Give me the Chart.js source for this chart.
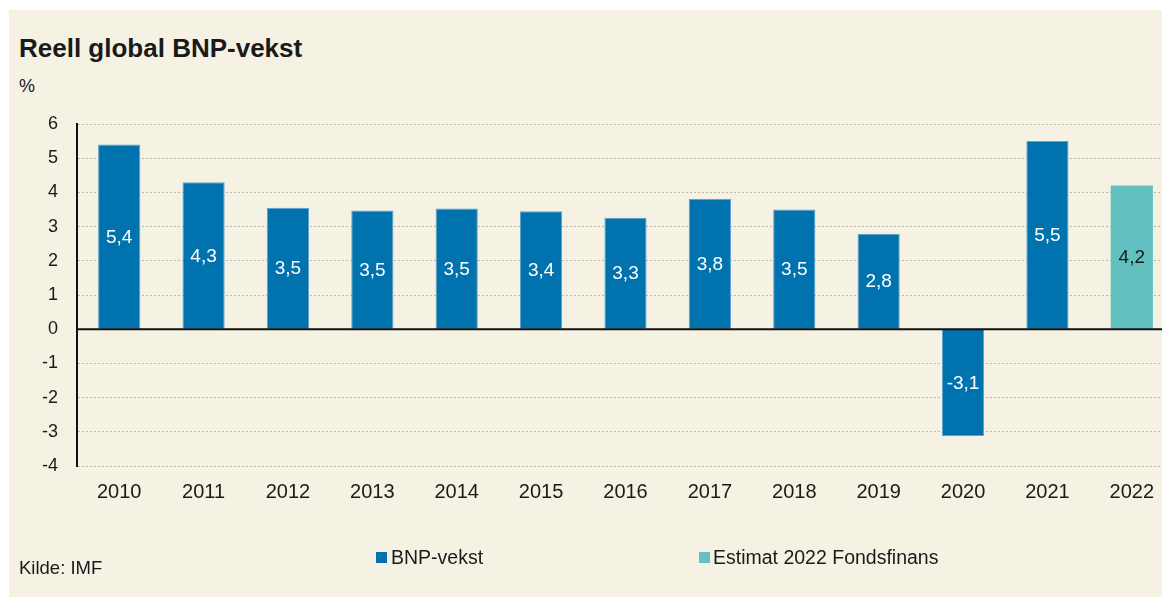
<!DOCTYPE html>
<html><head><meta charset="utf-8">
<script src="https://cdn.jsdelivr.net/npm/chart.js@4"></script>
<style>
html,body{margin:0;padding:0;width:1162px;height:597px;overflow:hidden;background:#fff;font-family:"Liberation Sans",Arial,sans-serif;color:#1a1a1a}
#panel{position:absolute;left:9px;top:10px;width:1153px;height:587px;background:#f5f1e3}
#wrap{position:absolute;left:0;top:0;width:1174px;height:597px}
.t{position:absolute;white-space:nowrap;line-height:1}
.sw{position:absolute;width:11px;height:11px}
</style></head>
<body>
<div id="panel"></div>
<div class="t" style="left:19px;top:35px;font-size:26px;font-weight:bold">Reell global BNP-vekst</div>
<div class="t" style="left:19px;top:77px;font-size:18px">%</div>
<div id="wrap"><canvas id="c"></canvas></div>
<div class="sw" style="left:376px;top:552px;background:#0073af"></div>
<div class="t" style="left:391px;top:548px;font-size:19.5px">BNP-vekst</div>
<div class="sw" style="left:699px;top:552px;background:#62c1c0"></div>
<div class="t" style="left:713px;top:548px;font-size:19.5px">Estimat 2022 Fondsfinans</div>
<div class="t" style="left:19px;top:559px;font-size:18.5px">Kilde: IMF</div>
<script>
const categories = ['2010','2011','2012','2013','2014','2015','2016','2017','2018','2019','2020','2021','2022'];
const bnpVekst = [5.40, 4.30, 3.55, 3.47, 3.53, 3.45, 3.26, 3.81, 3.50, 2.79, -3.12, 5.50, null];
const estimat  = [null, null, null, null, null, null, null, null, null, null, null, null, 4.20];
const valueLabels = ['5,4','4,3','3,5','3,5','3,5','3,4','3,3','3,8','3,5','2,8','-3,1','5,5','4,2'];
const yMin = -4, yMax = 6, yStep = 1;
const seriesNames = ['BNP-vekst', 'Estimat 2022 Fondsfinans'];

const barLabels = {
  id: 'barLabels',
  afterDatasetsDraw(chart) {
    const ctx = chart.ctx;
    chart.data.datasets.forEach((ds, di) => {
      const meta = chart.getDatasetMeta(di);
      meta.data.forEach((bar, i) => {
        if (ds.data[i] == null) return;
        const p = bar.getProps(['x', 'y', 'base'], true);
        ctx.save();
        ctx.fillStyle = di === 0 ? '#ffffff' : '#1a1a1a';
        ctx.font = '19px "Liberation Sans", Arial, sans-serif';
        ctx.textAlign = 'center';
        ctx.textBaseline = 'middle';
        ctx.fillText(valueLabels[i], p.x, (p.y + p.base) / 2 + 1);
        ctx.restore();
      });
    });
  }
};
const zeroLine = {
  id: 'zeroLine',
  afterDatasetsDraw(chart) {
    const {ctx, chartArea, scales} = chart;
    const y = scales.y.getPixelForValue(0);
    ctx.save();
    ctx.strokeStyle = '#111';
    ctx.lineWidth = 2;
    ctx.beginPath();
    ctx.moveTo(chartArea.left - 1, y);
    ctx.lineTo(chartArea.right, y);
    ctx.stroke();
    ctx.restore();
  }
};

new Chart(document.getElementById('c'), {
  type: 'bar',
  data: {
    labels: categories,
    datasets: [
      { label: seriesNames[0], data: bnpVekst, backgroundColor: '#0073af', borderColor: '#5da3cc', borderWidth: 1 },
      { label: seriesNames[1], data: estimat, backgroundColor: '#62c1c0', borderColor: '#62c1c0', borderWidth: 0 }
    ]
  },
  options: {
    responsive: true,
    maintainAspectRatio: false,
    animation: false,
    layout: { padding: { top: 124, bottom: 91, left: 0, right: 0 } },
    datasets: { bar: { barPercentage: 0.5, categoryPercentage: 1 } },
    plugins: { legend: { display: false }, tooltip: { enabled: false } },
    scales: {
      x: {
        stacked: true,
        grid: { display: false, drawTicks: false },
        border: { display: false },
        ticks: { color: '#1a1a1a', padding: 14, font: { size: 20, family: '"Liberation Sans", Arial, sans-serif' }, maxRotation: 0, autoSkip: false },
        afterFit: s => { s.height = 40; }
      },
      y: {
        stacked: true,
        min: yMin, max: yMax,
        grid: { color: '#bdb8ac', lineWidth: 1, drawTicks: false },
        border: { display: true, color: '#111', width: 2, dash: [2, 2] },
        ticks: { stepSize: yStep, color: '#1a1a1a', padding: 19, font: { size: 18, family: '"Liberation Sans", Arial, sans-serif' }, callback: v => String(v) },
        afterFit: s => { s.width = 77; }
      }
    }
  },
  plugins: [barLabels, zeroLine]
});
</script>
</body></html>
